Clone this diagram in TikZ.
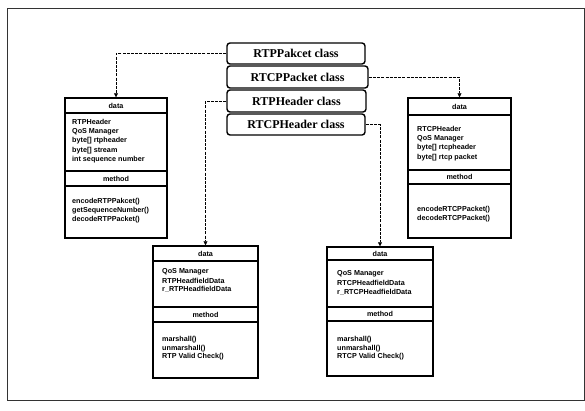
\documentclass[tikz,border=0pt]{standalone}
\usepackage{fontspec}
\setmainfont{Liberation Serif}
\setsansfont{Liberation Sans}
\usetikzlibrary{arrows.meta}
\begin{document}
\begin{tikzpicture}[x=1pt,y=-1pt,
  cls/.style={draw, line width=1.4pt, rounded corners=3pt, inner sep=0pt,
    font=\fontsize{12}{12}\selectfont\bfseries},
  ubox/.style={draw, line width=1.5pt, inner sep=0pt},
  sep/.style={line width=1.5pt},
  txt/.style={anchor=west, inner sep=0pt, font=\sffamily\bfseries\fontsize{7.2}{8}\selectfont},
  hdr/.style={inner sep=0pt, font=\sffamily\bfseries\fontsize{7.2}{8}\selectfont},
  conn/.style={line width=0.6pt, dash pattern=on 3pt off 1.2pt, -{Triangle[length=4pt,width=4pt]}},
]
\useasboundingbox (0,0) rectangle (585,410);
\draw[line width=0.8pt, black!80] (7,8) rectangle (584,400);

% class stack
\node[cls, minimum width=138pt, minimum height=21pt] (c1) at (296,53.5) {RTPPakcet class};
\node[cls, minimum width=141pt, minimum height=22pt] (c2) at (297.5,77) {RTCPPacket class};
\node[cls, minimum width=139pt, minimum height=22pt] (c3) at (296.5,101) {RTPHeader class};
\node[cls, minimum width=138pt, minimum height=21pt] (c4) at (296,124.5) {RTCPHeader class};

% left box (RTPPakcet)
\node[ubox, minimum width=102pt, minimum height=140pt] (lb) at (116,168) {};
\draw[sep] (65,113) -- (167,113);
\draw[sep] (65,171) -- (167,171);
\draw[sep] (65,186) -- (167,186);
\node[hdr] (lbd) at (116,105.5) {data};
\node[hdr] (lbm) at (116,178.5) {method};
\node[txt] (lb1) at (72,122) {RTPHeader};
\node[txt] (lb2) at (72,131.5) {QoS Manager};
\node[txt] (lb3) at (72,141) {byte[] rtpheader};
\node[txt] (lb4) at (72,150.5) {byte[] stream};
\node[txt] (lb5) at (72,160) {int sequence number};
\node[txt] (lb6) at (72,202) {encodeRTPPakcet()};
\node[txt] (lb7) at (72,211) {getSequenceNumber()};
\node[txt] (lb8) at (72,219.5) {decodeRTPPacket()};

% right box (RTCPPacket)
\node[ubox, minimum width=103pt, minimum height=140pt] (rb) at (459.5,168) {};
\draw[sep] (408,115) -- (511,115);
\draw[sep] (408,170) -- (511,170);
\draw[sep] (408,184) -- (511,184);
\node[hdr] (rbd) at (459.5,106.5) {data};
\node[hdr] (rbm) at (459.5,177) {method};
\node[txt] (rb1) at (417,129) {RTCPHeader};
\node[txt] (rb2) at (417,138.5) {QoS Manager};
\node[txt] (rb3) at (417,148) {byte[] rtcpheader};
\node[txt] (rb4) at (417,157.5) {byte[] rtcp packet};
\node[txt] (rb5) at (417,210) {encodeRTCPPacket()};
\node[txt] (rb6) at (417,218.5) {decodeRTCPPacket()};

% middle-left box (RTPHeader)
\node[ubox, minimum width=105pt, minimum height=132pt] (ml) at (205.5,312) {};
\draw[sep] (153,261) -- (258,261);
\draw[sep] (153,307) -- (258,307);
\draw[sep] (153,322) -- (258,322);
\node[hdr] (mld) at (205.5,253.5) {data};
\node[hdr] (mlm) at (205.5,314.5) {method};
\node[txt] (ml1) at (162,272) {QoS Manager};
\node[txt] (ml2) at (162,280.5) {RTPHeadfieldData};
\node[txt] (ml3) at (162,289) {r\_RTPHeadfieldData};
\node[txt] (ml4) at (162,340) {marshall()};
\node[txt] (ml5) at (162,348.5) {unmarshall()};
\node[txt] (ml6) at (162,357) {RTP Valid Check()};

% middle-right box (RTCPHeader)
\node[ubox, minimum width=106pt, minimum height=129pt] (mr) at (380,311.5) {};
\draw[sep] (327,260) -- (433,260);
\draw[sep] (327,307) -- (433,307);
\draw[sep] (327,321) -- (433,321);
\node[hdr] (mrd) at (380,253.5) {data};
\node[hdr] (mrm) at (380,313.5) {method};
\node[txt] (mr1) at (337,274) {QoS Manager};
\node[txt] (mr2) at (337,283) {RTCPHeadfieldData};
\node[txt] (mr3) at (337,292) {r\_RTCPHeadfieldData};
\node[txt] (mr4) at (337,340) {marshall()};
\node[txt] (mr5) at (337,349) {unmarshall()};
\node[txt] (mr6) at (337,357) {RTCP Valid Check()};

% connectors
\draw[conn] (c1.west) -| (lb.north);
\draw[conn] (c2.east) -| (rb.north);
\draw[conn] (c3.west) -| (ml.north);
\draw[conn] (c4.east) -| (mr.north);
\end{tikzpicture}
\end{document}
